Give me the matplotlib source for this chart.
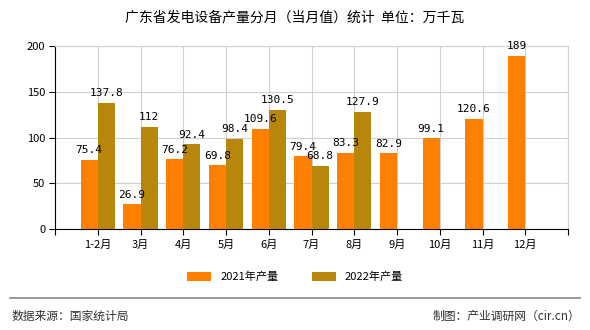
import matplotlib.pyplot as plt
import numpy as np

plt.rcParams['font.family'] = ['Noto Sans CJK SC', 'DejaVu Sans']

months = ["1-2月", "3月", "4月", "5月", "6月", "7月", "8月", "9月", "10月", "11月", "12月"]
prod_2021 = [75.4, 26.9, 76.2, 69.8, 109.6, 79.4, 83.3, 82.9, 99.1, 120.6, 189]
prod_2022 = [137.8, 112, 92.4, 98.4, 130.5, 68.8, 127.9]
labels_2021 = ["75.4", "26.9", "76.2", "69.8", "109.6", "79.4", "83.3", "82.9", "99.1", "120.6", "189"]
labels_2022 = ["137.8", "112", "92.4", "98.4", "130.5", "68.8", "127.9"]

c21 = "#ff8000"
c22 = "#b8860b"
w = 0.4

fig = plt.figure(figsize=(5.9, 3.3), dpi=100)
ax = fig.add_axes([55 / 590, 1 - 229 / 330, 513 / 590, 183 / 330])

x21 = np.arange(1, len(prod_2021) + 1)
x22 = np.arange(1, len(prod_2022) + 1)
ax.bar(x21 - w / 2, prod_2021, width=w, color=c21, zorder=3, label="2021年产量")
ax.bar(x22 + w / 2, prod_2022, width=w, color=c22, zorder=3, label="2022年产量")

for x, v, s in zip(x21, prod_2021, labels_2021):
    ax.text(x - w / 2, v + 5, s, ha="center", va="bottom", fontsize=8,
            family=["DejaVu Sans Mono"], zorder=4)
for x, v, s in zip(x22, prod_2022, labels_2022):
    ax.text(x + w / 2, v + 5, s, ha="center", va="bottom", fontsize=8,
            family=["DejaVu Sans Mono"], zorder=4)

ax.set_xlim(0, 12)
ax.set_ylim(0, 200)
ax.set_yticks([0, 50, 100, 150, 200])
ax.set_xticks(np.arange(0, 13))
ax.set_xticklabels([""] + months + [""])
ax.grid(True, color="#d0d0d0", linewidth=0.8, zorder=0)
for side in ["top", "right"]:
    ax.spines[side].set_color("#d0d0d0")
    ax.spines[side].set_linewidth(0.8)
ax.spines["left"].set_color("black")
ax.spines["bottom"].set_color("black")
ax.tick_params(axis="both", labelsize=8, length=4, color="black")
ax.tick_params(axis="y", pad=3)

fig.text(0.5, 1 - 17 / 330, "广东省发电设备产量分月（当月值）统计  单位：万千瓦",
         ha="center", va="center", fontsize=10)

fig.legend(loc="center", bbox_to_anchor=(0.5, 1 - 277 / 330), ncol=2, frameon=False,
           fontsize=8, handlelength=2.2, handleheight=0.8, columnspacing=3)

fig.add_artist(plt.Line2D([10 / 590, 580 / 590], [1 - 298 / 330] * 2,
                          color="#888888", linewidth=1.2))
fig.text(12 / 590, 1 - 316 / 330, "数据来源：国家统计局", ha="left", va="center",
         fontsize=8.5, color="#333333")
fig.text(580 / 590, 1 - 316 / 330, "制图：产业调研网（cir.cn）", ha="right", va="center",
         fontsize=8.5, color="#333333")

fig.savefig("out.png", dpi=100)
